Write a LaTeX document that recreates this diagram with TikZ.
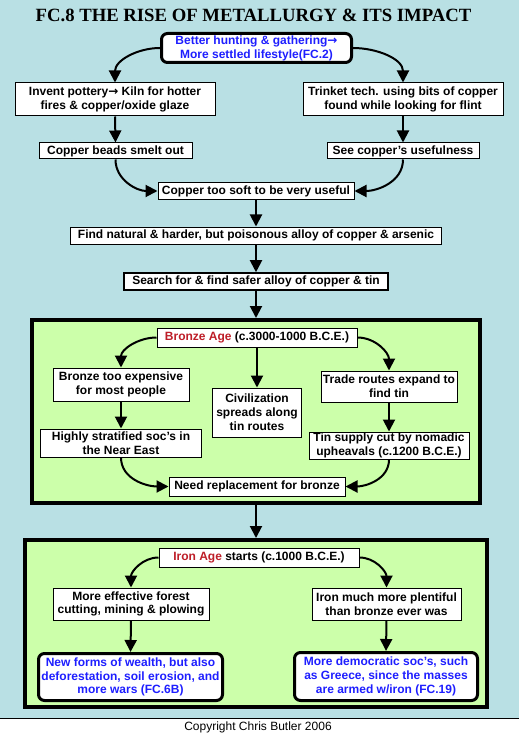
\documentclass[tikz,border=0pt]{standalone}
\usepackage{fontspec}
\setmainfont{Liberation Sans}
\newfontfamily\titlefont{Liberation Serif}
\newfontfamily\arrfont{DejaVu Sans}
\usetikzlibrary{arrows.meta}
\definecolor{bg}{RGB}{185,224,228}
\definecolor{grn}{RGB}{204,255,170}
\definecolor{lnk}{RGB}{30,30,255}
\definecolor{era}{RGB}{190,30,40}
\newcommand\boxfont{\fontsize{12}{13.8}\selectfont\bfseries}
\newcommand\rarr{{\arrfont\bfseries\fontsize{12}{13}\selectfont →}}
\tikzset{
  box/.style={draw=black, fill=white, line width=1pt, inner sep=0pt, align=center, font=\boxfont},
  keybox/.style={box, line width=3pt, rounded corners=6pt, text=lnk},
  framebox/.style={draw=black, fill=grn, line width=4pt, inner sep=0pt},
  arr/.style={line width=2pt, -{Triangle[length=12pt,width=12pt]}},
}
\begin{document}
\begin{tikzpicture}[x=1pt,y=-1pt]
\useasboundingbox (0,0) rectangle (519,735);
\fill[bg] (0,0) rectangle (519,718);
\fill[white] (0,718) rectangle (519,735);
\draw[line width=1pt] (0,718) -- (519,718);

\node[font=\titlefont\bfseries\fontsize{18.7}{20}\selectfont, inner sep=0pt] (title) at (253.5,15) {FC.8 THE RISE OF METALLURGY \& ITS IMPACT};

\node[keybox, minimum width=190pt, minimum height=29pt] (top) at (256.5,48) {Better hunting \& gathering\rarr\\More settled lifestyle(FC.2)};
\node[box, minimum width=200pt, minimum height=33pt] (pottery) at (115,99.5) {Invent pottery\rarr{} Kiln for hotter\\fires \& copper/oxide glaze};
\node[box, minimum width=200pt, minimum height=33pt] (trinket) at (403,99.5) {Trinket tech. using bits of copper\\found while looking for flint};
\node[box, minimum width=153pt, minimum height=16pt] (beads) at (115.5,151) {Copper beads smelt out};
\node[box, minimum width=152pt, minimum height=16pt] (useful) at (403,151) {See copper’s usefulness};
\node[box, minimum width=196pt, minimum height=17pt] (soft) at (256,191) {Copper too soft to be very useful};
\node[box, minimum width=371pt, minimum height=17pt] (natural) at (256,235.5) {Find natural \& harder, but poisonous alloy of copper \& arsenic};
\node[box, line width=1.6pt, minimum width=264pt, minimum height=17pt] (search) at (256,281.5) {Search for \& find safer alloy of copper \& tin};

\node[framebox, minimum width=448pt, minimum height=183pt] (bronze) at (256,411.5) {};
\node[box, minimum width=200pt, minimum height=19pt] (bage) at (257,337.5) {\textcolor{era}{Bronze Age} (c.3000-1000 B.C.E.)};
\node[box, minimum width=136pt, minimum height=33pt] (expensive) at (121,384.5) {Bronze too expensive\\for most people};
\node[box, minimum width=89pt, minimum height=49pt] (civ) at (257,412.5) {Civilization\\spreads along\\tin routes};
\node[box, minimum width=136pt, minimum height=31pt] (trade) at (389,386.5) {Trade routes expand to\\find tin};
\node[box, minimum width=161pt, minimum height=28pt] (strat) at (121,443) {Highly stratified soc’s in\\the Near East};
\node[box, minimum width=160pt, minimum height=27pt] (tin) at (389,445.5) {Tin supply cut by nomadic\\upheavals (c.1200 B.C.E.)};
\node[box, minimum width=176pt, minimum height=19pt] (need) at (257,486.5) {Need replacement for bronze};

\node[framebox, minimum width=462pt, minimum height=167pt] (iron) at (256,623.5) {};
\node[box, minimum width=200pt, minimum height=19pt] (iage) at (259,557.5) {\textcolor{era}{Iron Age} starts (c.1000 B.C.E.)};
\node[box, minimum width=156pt, minimum height=32pt] (forest) at (131,604) {More effective forest\\cutting, mining \& plowing};
\node[box, minimum width=149pt, minimum height=32pt] (plenty) at (386.5,604) {Iron much more plentiful\\than bronze ever was};
\node[keybox, minimum width=184pt, minimum height=47pt] (wealth) at (130.5,677) {New forms of wealth, but also\\deforestation, soil erosion, and\\more wars (FC.6B)};
\node[keybox, minimum width=183pt, minimum height=48pt] (demo) at (386,676.5) {More democratic soc’s, such\\as Greece, since the masses\\are armed w/iron (FC.19)};

\node[font=\fontsize{12}{14}\selectfont, inner sep=0pt] (copy) at (258,727) {Copyright Chris Butler 2006};

\draw[arr] (top.west) to[out=180,in=90] (pottery.north);
\draw[arr] (top.east) to[out=0,in=90] (trinket.north);
\draw[arr] (pottery.south) -- (beads.north);
\draw[arr] (trinket.south) -- (useful.north);
\draw[arr] (beads.south) to[out=-90,in=180] (soft.west);
\draw[arr] (useful.south) to[out=-90,in=0] (soft.east);
\draw[arr] (soft.south) -- (natural.north);
\draw[arr] (natural.south) -- (search.north);
\draw[arr] (search.south) -- (bronze.north);
\draw[arr] (bage.west) to[out=180,in=90] (expensive.north);
\draw[arr] (bage.south) -- (civ.north);
\draw[arr] (bage.east) to[out=0,in=90] (trade.north);
\draw[arr] (expensive.south) -- (strat.north);
\draw[arr] (trade.south) -- (tin.north);
\draw[arr] (strat.south) to[out=-90,in=180] (need.west);
\draw[arr] (tin.south) to[out=-90,in=0] (need.east);
\draw[arr] (bronze.south) -- (iron.north);
\draw[arr] (iage.west) to[out=180,in=90] (forest.north);
\draw[arr] (iage.east) to[out=0,in=90] (plenty.north);
\draw[arr] (forest.south) -- (wealth.north);
\draw[arr] (plenty.south) -- (demo.north);
\end{tikzpicture}
\end{document}
